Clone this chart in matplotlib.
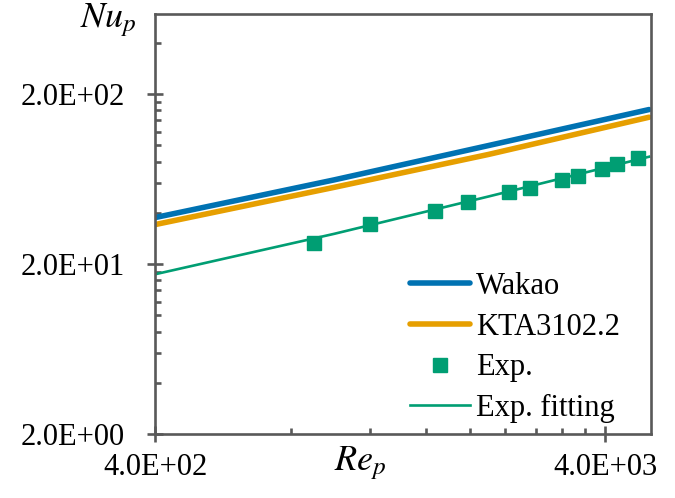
import numpy as np
import matplotlib
matplotlib.use('Agg')
import matplotlib.pyplot as plt
from matplotlib.ticker import FixedLocator, FuncFormatter, NullFormatter

plt.rcParams['font.family'] = 'Liberation Serif'
plt.rcParams['mathtext.fontset'] = 'stix'

# Correlation curves
re_curve = [400, 1000, 2200, 5000]
nu_wakao = [37.5, 62.5, 99.5, 162.0]
nu_kta = [34.1, 56.5, 88.2, 146.0]
nu_fit = [17.4, 30.1, 49.9, 85.5]

# Experimental points
re_exp = [904, 1203, 1670, 1977, 2444, 2725, 3199, 3480, 3940, 4252, 4720]
nu_exp = [26.5, 34.4, 41.0, 46.1, 52.8, 55.7, 62.4, 66.1, 72.1, 77.2, 84.1]

x_major = [400, 4000]
y_major = [2, 20, 200]

blue = '#0072B2'
orange = '#E69F00'
green = '#009E73'
spine_col = '#595959'

fig = plt.figure(figsize=(6.75, 4.98), dpi=100)
ax = fig.add_axes([155 / 675, 1 - 434 / 498, 496 / 675, 420 / 498])

ax.plot(re_curve, nu_wakao, color=blue, lw=4.0, label='Wakao', solid_capstyle='round')
ax.plot(re_curve, nu_kta, color=orange, lw=4.0, label='KTA3102.2', solid_capstyle='round')
ax.plot(re_exp, nu_exp, ls='none', marker='s', ms=10.5, color=green, label='Exp.')
ax.plot(re_curve, nu_fit, color=green, lw=1.9, label='Exp. fitting')

ax.set_xscale('log')
ax.set_yscale('log')
ax.set_xlim(400, 5050)
ax.set_ylim(2, 591)

x_minor = [b * k for b in [400, 4000] for k in range(2, 10)]
y_minor = [b * k for b in [2, 20, 200] for k in range(2, 10)]
ax.xaxis.set_major_locator(FixedLocator(x_major))
ax.xaxis.set_minor_locator(FixedLocator(x_minor))
ax.yaxis.set_major_locator(FixedLocator(y_major))
ax.yaxis.set_minor_locator(FixedLocator(y_minor))
fmt = FuncFormatter(lambda v, p: f'{v:.1E}')
ax.xaxis.set_major_formatter(fmt)
ax.yaxis.set_major_formatter(fmt)
ax.xaxis.set_minor_formatter(NullFormatter())
ax.yaxis.set_minor_formatter(NullFormatter())

for s in ax.spines.values():
    s.set_color(spine_col)
    s.set_linewidth(1.9)

ax.tick_params(which='major', direction='inout', length=11, width=1.9, color=spine_col,
               labelsize=22, labelcolor='black')
ax.tick_params(axis='x', which='major', pad=8)
ax.tick_params(axis='y', which='major', pad=16)
ax.tick_params(which='minor', direction='in', length=4, width=1.9, color=spine_col)

fig.text(108 / 675, 1 - 20 / 498, r'$Nu_p$', fontsize=26, ha='center', va='center')
fig.text(360 / 675, 1 - 463 / 498, r'$Re_p$', fontsize=26, ha='center', va='center')

leg = ax.legend(loc='upper left', bbox_to_anchor=(410 / 675, 1 - 272 / 498),
                bbox_transform=fig.transFigure, frameon=False, fontsize=22,
                borderpad=0, borderaxespad=0, handlelength=1.95, handletextpad=0.2,
                labelspacing=0.38)

fig.savefig('out.png', dpi=100)
